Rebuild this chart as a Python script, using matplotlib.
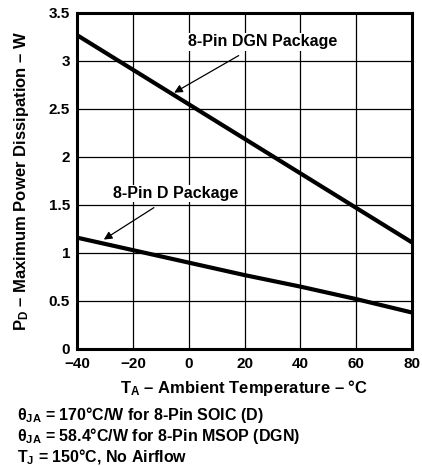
import numpy as np
import matplotlib.pyplot as plt

plt.rcParams['font.family'] = ['Liberation Sans', 'DejaVu Sans']
plt.rcParams['font.weight'] = 'bold'
plt.rcParams['mathtext.fontset'] = 'custom'
plt.rcParams['mathtext.rm'] = 'Liberation Sans:bold'
plt.rcParams['mathtext.it'] = 'Liberation Sans:bold'
plt.rcParams['mathtext.bf'] = 'Liberation Sans:bold'

temps = [-40, -20, 0, 20, 40, 60, 80]
dgn_power = [3.27, 2.91, 2.55, 2.19, 1.83, 1.47, 1.11]
d_power = [1.16, 1.03, 0.90, 0.77, 0.65, 0.52, 0.38]

xticks = [-40, -20, 0, 20, 40, 60, 80]
yticks = [0, 0.5, 1, 1.5, 2, 2.5, 3, 3.5]
ytick_labels = ['0', '0.5', '1', '1.5', '2', '2.5', '3', '3.5']

fig = plt.figure(figsize=(4.22, 4.66), dpi=100)
ax = fig.add_axes([77 / 422, 1 - 349 / 466, 335 / 422, 336 / 466])

ax.plot(temps, dgn_power, color='black', lw=3, solid_capstyle='butt')
ax.plot(temps, d_power, color='black', lw=3, solid_capstyle='butt')

ax.set_xlim(-40, 80)
ax.set_ylim(0, 3.5)
ax.set_xticks(xticks)
ax.set_yticks(yticks)
ax.set_yticklabels(ytick_labels)
ax.tick_params(length=0, labelsize=11)
ax.tick_params(axis='x', pad=6)
ax.tick_params(axis='y', pad=5)
for lab in ax.get_xticklabels() + ax.get_yticklabels():
    lab.set_fontweight('bold')
ax.grid(color='black', lw=0.9)
for s in ax.spines.values():
    s.set_linewidth(2.2)

box = dict(facecolor='white', edgecolor='none', pad=1)
ax.annotate('8-Pin DGN Package', xy=(-5.2, 2.67), xytext=(26.5, 3.2),
            ha='center', va='center', fontsize=11.5, fontweight='bold', bbox=box,
            arrowprops=dict(arrowstyle='-|>', color='black', lw=0.9,
                            mutation_scale=12, shrinkA=7, shrinkB=0))
ax.annotate('8-Pin D Package', xy=(-30.4, 1.14), xytext=(-4.5, 1.62),
            ha='center', va='center', fontsize=11.5, fontweight='bold', bbox=box,
            arrowprops=dict(arrowstyle='-|>', color='black', lw=0.9,
                            mutation_scale=12, shrinkA=7, shrinkB=0))

ax.set_xlabel('T$_\\mathregular{A}$ – Ambient Temperature – °C',
              fontsize=12, fontweight='bold')
ax.set_ylabel('P$_\\mathregular{D}$ – Maximum Power Dissipation – W',
              fontsize=12, fontweight='bold')
ax.xaxis.set_label_coords(0.5, -0.116)
ax.yaxis.set_label_coords(-0.165, 0.5)
ax.xaxis.label.set_va('center')
ax.yaxis.label.set_va('center')

notes = ['θ$_\\mathregular{JA}$ = 170°C/W for 8-Pin SOIC (D)',
         'θ$_\\mathregular{JA}$ = 58.4°C/W for 8-Pin MSOP (DGN)',
         'T$_\\mathregular{J}$ = 150°C, No Airflow']
for i, note in enumerate(notes):
    fig.text(17 / 422, 1 - (415 + i * 21) / 466, note, fontsize=11.5,
             fontweight='bold', va='center', ha='left')

fig.savefig('out.png', dpi=100)
